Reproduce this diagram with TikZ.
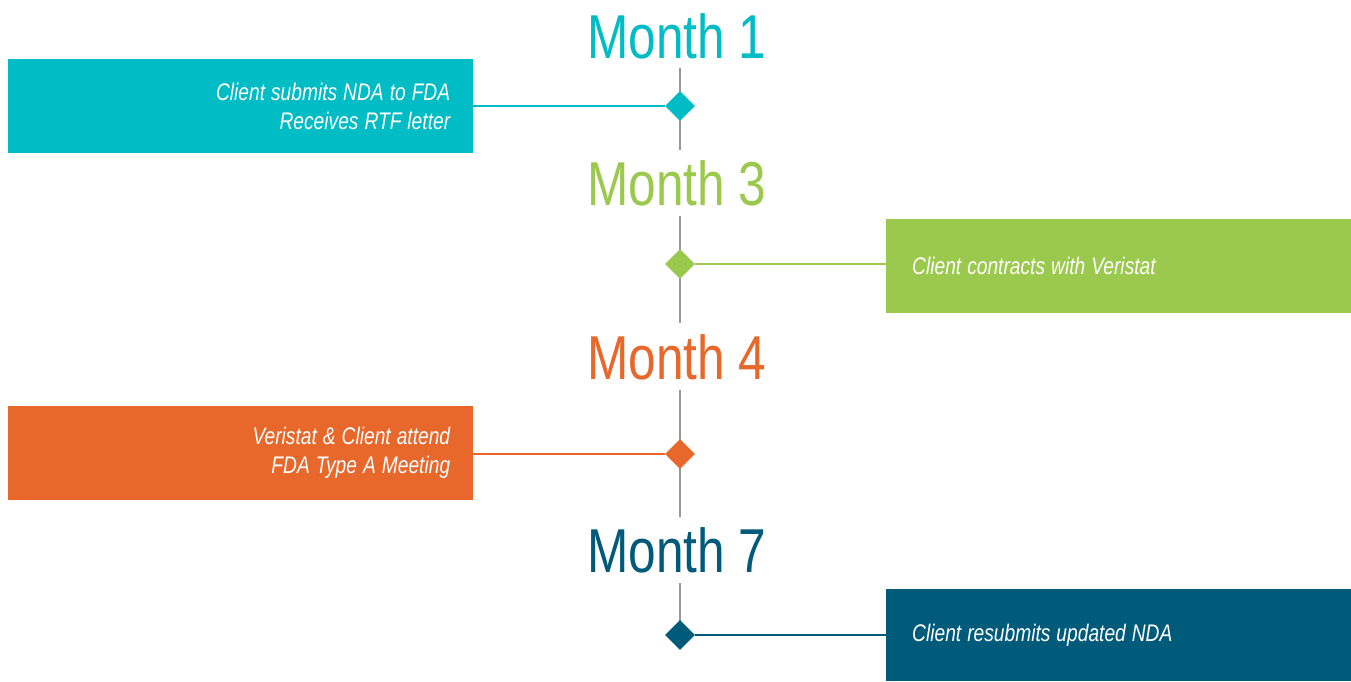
\documentclass[tikz,border=0pt]{standalone}
\usepackage{fontspec}
\usetikzlibrary{shapes.geometric}
\newfontfamily\condfont[FakeStretch=0.8]{Liberation Sans}
\definecolor{mcyan}{HTML}{00BCC4}
\definecolor{mgreen}{HTML}{9BC94E}
\definecolor{morange}{HTML}{E8672B}
\definecolor{mblue}{HTML}{005A7A}
\definecolor{mgray}{HTML}{999999}
\begin{document}
\begin{tikzpicture}[x=1pt,y=-1pt,
	month/.style={anchor=base,inner sep=0pt,font=\condfont\fontsize{62}{62}\selectfont},
	event/.style={rectangle,minimum width=465pt,minimum height=94pt,inner xsep=23pt,text=white,
		font=\condfont\itshape\fontsize{24}{29}\selectfont,execute at begin node={\spaceskip=6pt\relax}},
	leftbox/.style={event,anchor=north west,align=right,text width=419pt},
	rightbox/.style={event,anchor=north west,align=left,inner xsep=26pt,text width=413pt},
	mark node/.style={diamond,inner sep=0pt,minimum size=30pt},
	spine/.style={draw=mgray,line width=2pt},
	link/.style={line width=2pt}]

		\useasboundingbox (0,0) rectangle (1351,681);

		\node[month,text=mcyan] (m1) at (677,58) {Month 1};
		\node[month,text=mgreen] (m3) at (677,205) {Month 3};
		\node[month,text=morange] (m4) at (677,379) {Month 4};
		\node[month,text=mblue] (m7) at (677,572) {Month 7};

		\coordinate (t1) at (680,68);  \coordinate (s1) at (680,150);
		\coordinate (t3) at (680,216); \coordinate (s3) at (680,323);
		\coordinate (t4) at (680,390); \coordinate (s4) at (680,517);
		\coordinate (t7) at (680,583);

		\node[leftbox,fill=mcyan] (b1) at (8,59) {Client submits NDA to FDA\\Receives RTF letter};
		\node[rightbox,fill=mgreen] (b3) at (886,219) {Client contracts with Veristat};
		\node[leftbox,fill=morange] (b4) at (8,406) {Veristat \& Client attend\\FDA Type A Meeting};
		\node[rightbox,fill=mblue,minimum height=92pt] (b7) at (886,589) {Client resubmits updated NDA};

		\draw[spine] (t1) -- (s1);
		\draw[spine] (t3) -- (s3);
		\draw[spine] (t4) -- (s4);
		\draw[spine] (t7) -- (680,630);

		\node[mark node,fill=mcyan] (d1) at (680,106) {};
		\node[mark node,fill=mgreen] (d3) at (680,264) {};
		\node[mark node,fill=morange] (d4) at (680,454) {};
		\node[mark node,fill=mblue] (d7) at (680,635) {};

		\draw[link,mcyan] (b1.east |- d1) -- (d1);
		\draw[link,mgreen] (d3) -- (b3.west |- d3);
		\draw[link,morange] (b4.east |- d4) -- (d4);
		\draw[link,mblue] (d7) -- (b7.west |- d7);

		;
	\end{tikzpicture}
\end{document}
